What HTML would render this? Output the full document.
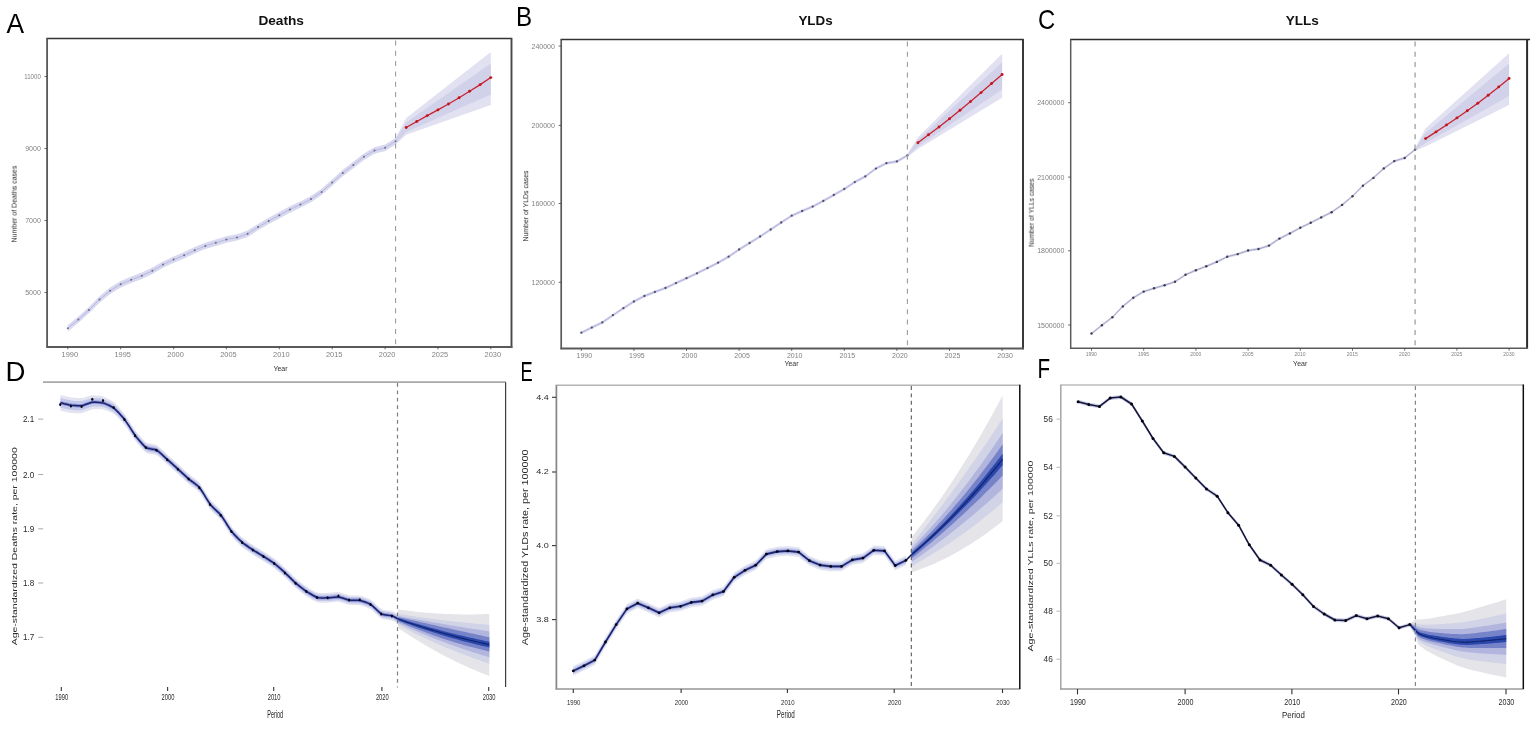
<!DOCTYPE html>
<html lang="en">
<head>
<meta charset="utf-8">
<title>Figure: Deaths, YLDs, YLLs projections</title>
<style>html,body{margin:0;padding:0;background:#fff;}body{width:1535px;height:735px;overflow:hidden;}svg{display:block;}</style>
</head>
<body>
<svg width="1535" height="735" viewBox="0 0 1535 735" font-family='"Liberation Sans", sans-serif'>
<defs><filter id="soft" x="-5%" y="-5%" width="110%" height="110%"><feGaussianBlur stdDeviation="0.45"/></filter><filter id="soft2" x="-5%" y="-5%" width="110%" height="110%"><feGaussianBlur stdDeviation="0.3"/></filter></defs>
<rect width="1535" height="735" fill="#ffffff"/>
<g id="panelA">
<g filter="url(#soft)">
<polygon points="67.8,325 78.4,316.4 88.9,306.9 99.5,296.3 110.1,287.5 120.7,281 131.2,276.6 141.8,272.5 152.4,267.6 163,261.4 173.6,256.4 184.1,252.1 194.7,247.1 205.3,242.7 215.8,239.6 226.4,236.3 237,234.2 247.6,230.6 258.1,223.9 268.7,217.7 279.3,212.1 289.9,206.3 300.4,201.4 311,195.9 321.6,188.7 332.2,179.4 342.8,169.8 353.3,161.8 363.9,153.5 374.5,147.3 385.1,144.5 395.6,138 395.6,144.4 385.1,150.9 374.5,153.7 363.9,159.9 353.3,168.2 342.8,176.2 332.2,185.8 321.6,195.1 311,202.3 300.4,207.8 289.9,212.7 279.3,218.5 268.7,224.1 258.1,230.3 247.6,237 237,240.6 226.4,242.7 215.8,246 205.3,249.1 194.7,253.5 184.1,258.5 173.6,262.8 163,267.8 152.4,274 141.8,278.9 131.2,283 120.7,287.4 110.1,293.9 99.5,302.7 88.9,313.3 78.4,322.8 67.8,331.4" fill="#d8d8f0"/>
<polygon points="395.6,138 406.2,118 490.8,52 490.8,105 406.2,134.7 395.6,144.4" fill="#e1e1f2"/>
<polygon points="395.6,139.3 406.2,122.5 490.8,63.6 490.8,94.6 406.2,132 395.6,143.1" fill="#d1d1ea"/>
<path d="M67.8 328.2 L78.4 319.6 L88.9 310.1 L99.5 299.5 L110.1 290.7 L120.7 284.2 L131.2 279.8 L141.8 275.7 L152.4 270.8 L163 264.6 L173.6 259.6 L184.1 255.3 L194.7 250.3 L205.3 245.9 L215.8 242.8 L226.4 239.5 L237 237.4 L247.6 233.8 L258.1 227.1 L268.7 220.9 L279.3 215.3 L289.9 209.5 L300.4 204.6 L311 199.1 L321.6 191.9 L332.2 182.6 L342.8 173 L353.3 165 L363.9 156.7 L374.5 150.5 L385.1 147.7 L395.6 141.2" fill="none" stroke="#b4b4dc" stroke-width="0.9"/>
<circle cx="67.8" cy="328.2" r="1.0" fill="#6b6b8c"/>
<circle cx="78.4" cy="319.6" r="1.0" fill="#6b6b8c"/>
<circle cx="88.9" cy="310.1" r="1.0" fill="#6b6b8c"/>
<circle cx="99.5" cy="299.5" r="1.0" fill="#6b6b8c"/>
<circle cx="110.1" cy="290.7" r="1.0" fill="#6b6b8c"/>
<circle cx="120.7" cy="284.2" r="1.0" fill="#6b6b8c"/>
<circle cx="131.2" cy="279.8" r="1.0" fill="#6b6b8c"/>
<circle cx="141.8" cy="275.7" r="1.0" fill="#6b6b8c"/>
<circle cx="152.4" cy="270.8" r="1.0" fill="#6b6b8c"/>
<circle cx="163" cy="264.6" r="1.0" fill="#6b6b8c"/>
<circle cx="173.6" cy="259.6" r="1.0" fill="#6b6b8c"/>
<circle cx="184.1" cy="255.3" r="1.0" fill="#6b6b8c"/>
<circle cx="194.7" cy="250.3" r="1.0" fill="#6b6b8c"/>
<circle cx="205.3" cy="245.9" r="1.0" fill="#6b6b8c"/>
<circle cx="215.8" cy="242.8" r="1.0" fill="#6b6b8c"/>
<circle cx="226.4" cy="239.5" r="1.0" fill="#6b6b8c"/>
<circle cx="237" cy="237.4" r="1.0" fill="#6b6b8c"/>
<circle cx="247.6" cy="233.8" r="1.0" fill="#6b6b8c"/>
<circle cx="258.1" cy="227.1" r="1.0" fill="#6b6b8c"/>
<circle cx="268.7" cy="220.9" r="1.0" fill="#6b6b8c"/>
<circle cx="279.3" cy="215.3" r="1.0" fill="#6b6b8c"/>
<circle cx="289.9" cy="209.5" r="1.0" fill="#6b6b8c"/>
<circle cx="300.4" cy="204.6" r="1.0" fill="#6b6b8c"/>
<circle cx="311" cy="199.1" r="1.0" fill="#6b6b8c"/>
<circle cx="321.6" cy="191.9" r="1.0" fill="#6b6b8c"/>
<circle cx="332.2" cy="182.6" r="1.0" fill="#6b6b8c"/>
<circle cx="342.8" cy="173" r="1.0" fill="#6b6b8c"/>
<circle cx="353.3" cy="165" r="1.0" fill="#6b6b8c"/>
<circle cx="363.9" cy="156.7" r="1.0" fill="#6b6b8c"/>
<circle cx="374.5" cy="150.5" r="1.0" fill="#6b6b8c"/>
<circle cx="385.1" cy="147.7" r="1.0" fill="#6b6b8c"/>
<circle cx="395.6" cy="141.2" r="1.0" fill="#6b6b8c"/>
<path d="M406.2 127.5 L416.8 121.5 L427.3 115.6 L437.9 109.9 L448.5 104 L459.1 97.8 L469.6 91.3 L480.2 84.6 L490.8 77.6" fill="none" stroke="#c9202c" stroke-width="1.25"/>
<circle cx="406.2" cy="127.5" r="1.45" fill="#c4141f"/>
<circle cx="416.8" cy="121.5" r="1.45" fill="#c4141f"/>
<circle cx="427.3" cy="115.6" r="1.45" fill="#c4141f"/>
<circle cx="437.9" cy="109.9" r="1.45" fill="#c4141f"/>
<circle cx="448.5" cy="104" r="1.45" fill="#c4141f"/>
<circle cx="459.1" cy="97.8" r="1.45" fill="#c4141f"/>
<circle cx="469.6" cy="91.3" r="1.45" fill="#c4141f"/>
<circle cx="480.2" cy="84.6" r="1.45" fill="#c4141f"/>
<circle cx="490.8" cy="77.6" r="1.45" fill="#c4141f"/>
</g>
<g filter="url(#soft2)">
<line x1="395.6" y1="40.5" x2="395.6" y2="346.9" stroke="#999999" stroke-width="1.05" stroke-dasharray="5 5.3"/>
<line x1="46.3" y1="38.5" x2="512.3" y2="38.5" stroke="#363636" stroke-width="1.50"/>
<line x1="511.5" y1="38.5" x2="511.5" y2="347.8" stroke="#464646" stroke-width="1.90"/>
<line x1="47.1" y1="38.5" x2="47.1" y2="347.8" stroke="#5a5a5a" stroke-width="1.85"/>
<line x1="46.3" y1="346.9" x2="512.4" y2="346.9" stroke="#5a5a5a" stroke-width="2.00"/>
</g>
<g stroke="#444" stroke-width="0.8">
<line x1="67.8" y1="346.9" x2="67.8" y2="349.3"/>
<line x1="120.7" y1="346.9" x2="120.7" y2="349.3"/>
<line x1="173.6" y1="346.9" x2="173.6" y2="349.3"/>
<line x1="226.4" y1="346.9" x2="226.4" y2="349.3"/>
<line x1="279.3" y1="346.9" x2="279.3" y2="349.3"/>
<line x1="332.2" y1="346.9" x2="332.2" y2="349.3"/>
<line x1="385.1" y1="346.9" x2="385.1" y2="349.3"/>
<line x1="437.9" y1="346.9" x2="437.9" y2="349.3"/>
<line x1="490.8" y1="346.9" x2="490.8" y2="349.3"/>
<line x1="44.5" y1="76.5" x2="47.1" y2="76.5"/>
<line x1="44.5" y1="148.5" x2="47.1" y2="148.5"/>
<line x1="44.5" y1="220.5" x2="47.1" y2="220.5"/>
<line x1="44.5" y1="292.5" x2="47.1" y2="292.5"/>
</g>
<g font-size="7.4" fill="#808080" filter="url(#soft)">
<text x="69.8" y="356.8" text-anchor="middle">1990</text>
<text x="122.7" y="356.8" text-anchor="middle">1995</text>
<text x="175.6" y="356.8" text-anchor="middle">2000</text>
<text x="228.4" y="356.8" text-anchor="middle">2005</text>
<text x="281.3" y="356.8" text-anchor="middle">2010</text>
<text x="334.2" y="356.8" text-anchor="middle">2015</text>
<text x="387.1" y="356.8" text-anchor="middle">2020</text>
<text x="439.9" y="356.8" text-anchor="middle">2025</text>
<text x="492.8" y="356.8" text-anchor="middle">2030</text>
<text x="40.8" y="79" text-anchor="end" font-size="7" textLength="16.5" lengthAdjust="spacingAndGlyphs">11000</text>
<text x="40.8" y="151" text-anchor="end" font-size="7">9000</text>
<text x="40.8" y="223" text-anchor="end" font-size="7">7000</text>
<text x="40.8" y="295" text-anchor="end" font-size="7">5000</text>
</g>
<text x="280.5" y="370.9" font-size="7" fill="#333" text-anchor="middle" filter="url(#soft2)">Year</text>
<text transform="translate(16.6 204) rotate(-90)" font-size="6.6" fill="#2a2a2a" text-anchor="middle" textLength="77" lengthAdjust="spacingAndGlyphs" filter="url(#soft2)">Number of Deaths cases</text>
<text x="281.2" y="25.3" font-size="13" font-weight="bold" fill="#111" text-anchor="middle" textLength="45.6" lengthAdjust="spacingAndGlyphs">Deaths</text>
</g>
<g id="panelB">
<g filter="url(#soft)">
<polygon points="581.3,331.2 591.8,326.1 602.3,320.9 612.9,313.7 623.4,306.7 633.9,300 644.4,294.5 654.9,290.4 665.5,286.5 676,281.6 686.5,276.7 697,271.8 707.5,266.6 718.1,261.2 728.6,255.2 739.1,248 749.6,241.5 760.1,235 770.7,228 781.2,221 791.7,214.2 802.2,209.5 812.7,205.1 823.3,199.4 833.8,193.5 844.3,187.5 854.8,180.6 865.3,174.9 875.9,167.1 886.4,161.7 896.9,159.9 907.4,153.9 907.4,156.9 896.9,162.9 886.4,164.7 875.9,170.1 865.3,177.9 854.8,183.6 844.3,190.5 833.8,196.5 823.3,202.4 812.7,208.1 802.2,212.5 791.7,217.2 781.2,224 770.7,231 760.1,238 749.6,244.5 739.1,251 728.6,258.2 718.1,264.2 707.5,269.6 697,274.8 686.5,279.7 676,284.6 665.5,289.5 654.9,293.4 644.4,297.5 633.9,303 623.4,309.7 612.9,316.7 602.3,323.9 591.8,329.1 581.3,334.2" fill="#d8d8f0"/>
<polygon points="907.4,153.9 917.9,137.3 1002.1,53.8 1002.1,97.8 917.9,149 907.4,156.9" fill="#e1e1f2"/>
<polygon points="907.4,154.5 917.9,140 1002.1,62.3 1002.1,89.5 917.9,146.5 907.4,156.3" fill="#d1d1ea"/>
<path d="M581.3 332.7 L591.8 327.6 L602.3 322.4 L612.9 315.2 L623.4 308.2 L633.9 301.5 L644.4 296 L654.9 291.9 L665.5 288 L676 283.1 L686.5 278.2 L697 273.3 L707.5 268.1 L718.1 262.7 L728.6 256.7 L739.1 249.5 L749.6 243 L760.1 236.5 L770.7 229.5 L781.2 222.5 L791.7 215.7 L802.2 211 L812.7 206.6 L823.3 200.9 L833.8 195 L844.3 189 L854.8 182.1 L865.3 176.4 L875.9 168.6 L886.4 163.2 L896.9 161.4 L907.4 155.4" fill="none" stroke="#b0b0dc" stroke-width="1.0"/>
<circle cx="581.3" cy="332.7" r="1.15" fill="#50506a"/>
<circle cx="591.8" cy="327.6" r="1.15" fill="#50506a"/>
<circle cx="602.3" cy="322.4" r="1.15" fill="#50506a"/>
<circle cx="612.9" cy="315.2" r="1.15" fill="#50506a"/>
<circle cx="623.4" cy="308.2" r="1.15" fill="#50506a"/>
<circle cx="633.9" cy="301.5" r="1.15" fill="#50506a"/>
<circle cx="644.4" cy="296" r="1.15" fill="#50506a"/>
<circle cx="654.9" cy="291.9" r="1.15" fill="#50506a"/>
<circle cx="665.5" cy="288" r="1.15" fill="#50506a"/>
<circle cx="676" cy="283.1" r="1.15" fill="#50506a"/>
<circle cx="686.5" cy="278.2" r="1.15" fill="#50506a"/>
<circle cx="697" cy="273.3" r="1.15" fill="#50506a"/>
<circle cx="707.5" cy="268.1" r="1.15" fill="#50506a"/>
<circle cx="718.1" cy="262.7" r="1.15" fill="#50506a"/>
<circle cx="728.6" cy="256.7" r="1.15" fill="#50506a"/>
<circle cx="739.1" cy="249.5" r="1.15" fill="#50506a"/>
<circle cx="749.6" cy="243" r="1.15" fill="#50506a"/>
<circle cx="760.1" cy="236.5" r="1.15" fill="#50506a"/>
<circle cx="770.7" cy="229.5" r="1.15" fill="#50506a"/>
<circle cx="781.2" cy="222.5" r="1.15" fill="#50506a"/>
<circle cx="791.7" cy="215.7" r="1.15" fill="#50506a"/>
<circle cx="802.2" cy="211" r="1.15" fill="#50506a"/>
<circle cx="812.7" cy="206.6" r="1.15" fill="#50506a"/>
<circle cx="823.3" cy="200.9" r="1.15" fill="#50506a"/>
<circle cx="833.8" cy="195" r="1.15" fill="#50506a"/>
<circle cx="844.3" cy="189" r="1.15" fill="#50506a"/>
<circle cx="854.8" cy="182.1" r="1.15" fill="#50506a"/>
<circle cx="865.3" cy="176.4" r="1.15" fill="#50506a"/>
<circle cx="875.9" cy="168.6" r="1.15" fill="#50506a"/>
<circle cx="886.4" cy="163.2" r="1.15" fill="#50506a"/>
<circle cx="896.9" cy="161.4" r="1.15" fill="#50506a"/>
<circle cx="907.4" cy="155.4" r="1.15" fill="#50506a"/>
<path d="M917.9 142.7 L928.5 134.7 L939 127 L949.5 118.7 L960 110.2 L970.5 101.6 L981.1 92.6 L991.6 83.5 L1002.1 74.5" fill="none" stroke="#c9202c" stroke-width="1.25"/>
<circle cx="917.9" cy="142.7" r="1.45" fill="#c4141f"/>
<circle cx="928.5" cy="134.7" r="1.45" fill="#c4141f"/>
<circle cx="939" cy="127" r="1.45" fill="#c4141f"/>
<circle cx="949.5" cy="118.7" r="1.45" fill="#c4141f"/>
<circle cx="960" cy="110.2" r="1.45" fill="#c4141f"/>
<circle cx="970.5" cy="101.6" r="1.45" fill="#c4141f"/>
<circle cx="981.1" cy="92.6" r="1.45" fill="#c4141f"/>
<circle cx="991.6" cy="83.5" r="1.45" fill="#c4141f"/>
<circle cx="1002.1" cy="74.5" r="1.45" fill="#c4141f"/>
</g>
<g filter="url(#soft2)">
<line x1="907.4" y1="41.5" x2="907.4" y2="348.5" stroke="#9c9c9c" stroke-width="1.1" stroke-dasharray="5 5.3"/>
<line x1="560.5" y1="39.5" x2="1023.8" y2="39.5" stroke="#303030" stroke-width="1.55"/>
<line x1="1023" y1="39.5" x2="1023" y2="349.3" stroke="#303030" stroke-width="1.90"/>
<line x1="561.2" y1="39.5" x2="561.2" y2="349.3" stroke="#5a5a5a" stroke-width="1.70"/>
<line x1="560.5" y1="348.5" x2="1023.9" y2="348.5" stroke="#5a5a5a" stroke-width="1.84"/>
</g>
<g stroke="#444" stroke-width="0.8">
<line x1="581.3" y1="348.5" x2="581.3" y2="350.9"/>
<line x1="633.9" y1="348.5" x2="633.9" y2="350.9"/>
<line x1="686.5" y1="348.5" x2="686.5" y2="350.9"/>
<line x1="739.1" y1="348.5" x2="739.1" y2="350.9"/>
<line x1="791.7" y1="348.5" x2="791.7" y2="350.9"/>
<line x1="844.3" y1="348.5" x2="844.3" y2="350.9"/>
<line x1="896.9" y1="348.5" x2="896.9" y2="350.9"/>
<line x1="949.5" y1="348.5" x2="949.5" y2="350.9"/>
<line x1="1002.1" y1="348.5" x2="1002.1" y2="350.9"/>
<line x1="558.6" y1="46" x2="561.2" y2="46"/>
<line x1="558.6" y1="125.4" x2="561.2" y2="125.4"/>
<line x1="558.6" y1="203.5" x2="561.2" y2="203.5"/>
<line x1="558.6" y1="282.3" x2="561.2" y2="282.3"/>
</g>
<g font-size="7.0" fill="#808080" filter="url(#soft)">
<text x="584.3" y="358" text-anchor="middle">1990</text>
<text x="636.9" y="358" text-anchor="middle">1995</text>
<text x="689.5" y="358" text-anchor="middle">2000</text>
<text x="742.1" y="358" text-anchor="middle">2005</text>
<text x="794.7" y="358" text-anchor="middle">2010</text>
<text x="847.3" y="358" text-anchor="middle">2015</text>
<text x="899.9" y="358" text-anchor="middle">2020</text>
<text x="952.5" y="358" text-anchor="middle">2025</text>
<text x="1005.1" y="358" text-anchor="middle">2030</text>
<text x="554.9" y="48.5" text-anchor="end" font-size="7">240000</text>
<text x="554.9" y="127.9" text-anchor="end" font-size="7">200000</text>
<text x="554.9" y="206" text-anchor="end" font-size="7">160000</text>
<text x="554.9" y="284.8" text-anchor="end" font-size="7">120000</text>
</g>
<text x="791.5" y="366" font-size="7" fill="#333" text-anchor="middle" filter="url(#soft2)">Year</text>
<text transform="translate(528.2 206) rotate(-90)" font-size="6.6" fill="#2a2a2a" text-anchor="middle" textLength="71" lengthAdjust="spacingAndGlyphs" filter="url(#soft2)">Number of YLDs cases</text>
<text x="815.5" y="25.3" font-size="13" font-weight="bold" fill="#111" text-anchor="middle" textLength="34.2" lengthAdjust="spacingAndGlyphs">YLDs</text>
</g>
<g id="panelC">
<g filter="url(#soft)">
<polygon points="1091.5,332.2 1101.9,323.9 1112.4,315.9 1122.8,305.1 1133.3,296.5 1143.7,290.3 1154.1,287 1164.6,283.9 1175,280.5 1185.5,273.5 1195.9,268.9 1206.3,265 1216.8,260.6 1227.2,255.4 1237.7,252.8 1248.1,249.2 1258.5,247.7 1269,244.3 1279.4,237.3 1289.9,232.1 1300.3,226.5 1310.7,221.5 1321.2,216.1 1331.6,210.9 1342.1,203.6 1352.5,194.9 1362.9,184.4 1373.4,176.6 1383.8,167.1 1394.3,159.8 1404.7,156.7 1415.1,148.2 1415.1,150.8 1404.7,159.3 1394.3,162.4 1383.8,169.7 1373.4,179.2 1362.9,187 1352.5,197.5 1342.1,206.2 1331.6,213.5 1321.2,218.7 1310.7,224.1 1300.3,229.1 1289.9,234.7 1279.4,239.9 1269,246.9 1258.5,250.3 1248.1,251.8 1237.7,255.4 1227.2,258 1216.8,263.2 1206.3,267.6 1195.9,271.5 1185.5,276.1 1175,283.1 1164.6,286.5 1154.1,289.6 1143.7,292.9 1133.3,299.1 1122.8,307.7 1112.4,318.5 1101.9,326.5 1091.5,334.8" fill="#d8d8f0"/>
<polygon points="1415.1,148.2 1425.6,128.3 1509.1,53.3 1509.1,105 1425.6,146.4 1415.1,150.8" fill="#e1e1f2"/>
<polygon points="1415.1,148.7 1425.6,133 1509.1,63.6 1509.1,96 1425.6,143 1415.1,150.3" fill="#d1d1ea"/>
<path d="M1091.5 333.5 L1101.9 325.2 L1112.4 317.2 L1122.8 306.4 L1133.3 297.8 L1143.7 291.6 L1154.1 288.3 L1164.6 285.2 L1175 281.8 L1185.5 274.8 L1195.9 270.2 L1206.3 266.3 L1216.8 261.9 L1227.2 256.7 L1237.7 254.1 L1248.1 250.5 L1258.5 249 L1269 245.6 L1279.4 238.6 L1289.9 233.4 L1300.3 227.8 L1310.7 222.8 L1321.2 217.4 L1331.6 212.2 L1342.1 204.9 L1352.5 196.2 L1362.9 185.7 L1373.4 177.9 L1383.8 168.4 L1394.3 161.1 L1404.7 158 L1415.1 149.5" fill="none" stroke="#a4a4c0" stroke-width="1.0"/>
<circle cx="1091.5" cy="333.5" r="1.2" fill="#3c3c50"/>
<circle cx="1101.9" cy="325.2" r="1.2" fill="#3c3c50"/>
<circle cx="1112.4" cy="317.2" r="1.2" fill="#3c3c50"/>
<circle cx="1122.8" cy="306.4" r="1.2" fill="#3c3c50"/>
<circle cx="1133.3" cy="297.8" r="1.2" fill="#3c3c50"/>
<circle cx="1143.7" cy="291.6" r="1.2" fill="#3c3c50"/>
<circle cx="1154.1" cy="288.3" r="1.2" fill="#3c3c50"/>
<circle cx="1164.6" cy="285.2" r="1.2" fill="#3c3c50"/>
<circle cx="1175" cy="281.8" r="1.2" fill="#3c3c50"/>
<circle cx="1185.5" cy="274.8" r="1.2" fill="#3c3c50"/>
<circle cx="1195.9" cy="270.2" r="1.2" fill="#3c3c50"/>
<circle cx="1206.3" cy="266.3" r="1.2" fill="#3c3c50"/>
<circle cx="1216.8" cy="261.9" r="1.2" fill="#3c3c50"/>
<circle cx="1227.2" cy="256.7" r="1.2" fill="#3c3c50"/>
<circle cx="1237.7" cy="254.1" r="1.2" fill="#3c3c50"/>
<circle cx="1248.1" cy="250.5" r="1.2" fill="#3c3c50"/>
<circle cx="1258.5" cy="249" r="1.2" fill="#3c3c50"/>
<circle cx="1269" cy="245.6" r="1.2" fill="#3c3c50"/>
<circle cx="1279.4" cy="238.6" r="1.2" fill="#3c3c50"/>
<circle cx="1289.9" cy="233.4" r="1.2" fill="#3c3c50"/>
<circle cx="1300.3" cy="227.8" r="1.2" fill="#3c3c50"/>
<circle cx="1310.7" cy="222.8" r="1.2" fill="#3c3c50"/>
<circle cx="1321.2" cy="217.4" r="1.2" fill="#3c3c50"/>
<circle cx="1331.6" cy="212.2" r="1.2" fill="#3c3c50"/>
<circle cx="1342.1" cy="204.9" r="1.2" fill="#3c3c50"/>
<circle cx="1352.5" cy="196.2" r="1.2" fill="#3c3c50"/>
<circle cx="1362.9" cy="185.7" r="1.2" fill="#3c3c50"/>
<circle cx="1373.4" cy="177.9" r="1.2" fill="#3c3c50"/>
<circle cx="1383.8" cy="168.4" r="1.2" fill="#3c3c50"/>
<circle cx="1394.3" cy="161.1" r="1.2" fill="#3c3c50"/>
<circle cx="1404.7" cy="158" r="1.2" fill="#3c3c50"/>
<circle cx="1415.1" cy="149.5" r="1.2" fill="#3c3c50"/>
<path d="M1425.6 138.6 L1436 131.9 L1446.5 124.9 L1456.9 117.9 L1467.3 110.7 L1477.8 103.2 L1488.2 95.2 L1498.7 86.9 L1509.1 78.4" fill="none" stroke="#c9202c" stroke-width="1.25"/>
<circle cx="1425.6" cy="138.6" r="1.45" fill="#c4141f"/>
<circle cx="1436" cy="131.9" r="1.45" fill="#c4141f"/>
<circle cx="1446.5" cy="124.9" r="1.45" fill="#c4141f"/>
<circle cx="1456.9" cy="117.9" r="1.45" fill="#c4141f"/>
<circle cx="1467.3" cy="110.7" r="1.45" fill="#c4141f"/>
<circle cx="1477.8" cy="103.2" r="1.45" fill="#c4141f"/>
<circle cx="1488.2" cy="95.2" r="1.45" fill="#c4141f"/>
<circle cx="1498.7" cy="86.9" r="1.45" fill="#c4141f"/>
<circle cx="1509.1" cy="78.4" r="1.45" fill="#c4141f"/>
</g>
<g filter="url(#soft2)">
<line x1="1415.1" y1="41.5" x2="1415.1" y2="348.3" stroke="#b2b2b2" stroke-width="1.6" stroke-dasharray="5 5.3"/>
<line x1="1070.1" y1="39.5" x2="1530.1" y2="39.5" stroke="#2a2a2a" stroke-width="1.40"/>
<line x1="1527.1" y1="39.5" x2="1527.1" y2="349" stroke="#2a2a2a" stroke-width="2.00"/>
<line x1="1070.7" y1="39.5" x2="1070.7" y2="349" stroke="#5a5a5a" stroke-width="1.48"/>
<line x1="1070.1" y1="348.3" x2="1528" y2="348.3" stroke="#5a5a5a" stroke-width="1.60"/>
</g>
<g stroke="#444" stroke-width="0.8">
<line x1="1091.5" y1="348.3" x2="1091.5" y2="350.7"/>
<line x1="1143.7" y1="348.3" x2="1143.7" y2="350.7"/>
<line x1="1195.9" y1="348.3" x2="1195.9" y2="350.7"/>
<line x1="1248.1" y1="348.3" x2="1248.1" y2="350.7"/>
<line x1="1300.3" y1="348.3" x2="1300.3" y2="350.7"/>
<line x1="1352.5" y1="348.3" x2="1352.5" y2="350.7"/>
<line x1="1404.7" y1="348.3" x2="1404.7" y2="350.7"/>
<line x1="1456.9" y1="348.3" x2="1456.9" y2="350.7"/>
<line x1="1509.1" y1="348.3" x2="1509.1" y2="350.7"/>
<line x1="1068.1" y1="102.7" x2="1070.7" y2="102.7"/>
<line x1="1068.1" y1="177.1" x2="1070.7" y2="177.1"/>
<line x1="1068.1" y1="250.8" x2="1070.7" y2="250.8"/>
<line x1="1068.1" y1="325" x2="1070.7" y2="325"/>
</g>
<g font-size="5.0" fill="#808080" filter="url(#soft)">
<text x="1091.3" y="355.6" text-anchor="middle">1990</text>
<text x="1143.5" y="355.6" text-anchor="middle">1995</text>
<text x="1195.7" y="355.6" text-anchor="middle">2000</text>
<text x="1247.9" y="355.6" text-anchor="middle">2005</text>
<text x="1300.1" y="355.6" text-anchor="middle">2010</text>
<text x="1352.3" y="355.6" text-anchor="middle">2015</text>
<text x="1404.5" y="355.6" text-anchor="middle">2020</text>
<text x="1456.7" y="355.6" text-anchor="middle">2025</text>
<text x="1508.9" y="355.6" text-anchor="middle">2030</text>
<text x="1064.4" y="105.2" text-anchor="end" font-size="7">2400000</text>
<text x="1064.4" y="179.6" text-anchor="end" font-size="7">2100000</text>
<text x="1064.4" y="253.3" text-anchor="end" font-size="7">1800000</text>
<text x="1064.4" y="327.5" text-anchor="end" font-size="7">1500000</text>
</g>
<text x="1300.2" y="365.9" font-size="7" fill="#333" text-anchor="middle" filter="url(#soft2)">Year</text>
<text transform="translate(1033.8 212.6) rotate(-90)" font-size="6.6" fill="#2a2a2a" text-anchor="middle" textLength="68.5" lengthAdjust="spacingAndGlyphs" filter="url(#soft2)">Number of YLLs cases</text>
<text x="1302.3" y="25.3" font-size="13" font-weight="bold" fill="#111" text-anchor="middle" textLength="33.2" lengthAdjust="spacingAndGlyphs">YLLs</text>
</g>
<g id="panelD">
<g filter="url(#soft)">
<polygon points="60.5,394.8 61.8,395.2 64.1,395.7 66.8,396.4 69.4,397 71.2,397.4 72.9,397.6 75.3,397.8 77.8,398 80.2,398.1 81.9,398 83.6,397.7 86,397 88.5,396.2 90.9,395.5 92.6,395.2 94.3,395.2 96.7,395.4 99.2,395.7 101.6,396.1 103.3,396.6 105,397.3 107.4,398.4 109.9,399.7 112.3,401.1 114,402.3 115.7,404 118.1,406.4 120.6,409.3 123,412 124.7,414.2 126.4,416.7 128.8,420.3 131.3,424.3 133.7,427.9 135.4,430.4 137.1,432.6 139.5,435.4 142,438.4 144.4,440.9 146.1,442.4 147.8,443.1 150.2,443.6 152.7,444 155.1,444.5 156.8,445.1 158.5,446.4 160.9,448.5 163.4,450.8 165.8,453.1 167.5,454.7 169.2,456.2 171.6,458.3 174.1,460.6 176.5,462.7 178.2,464.3 179.9,465.9 182.3,468.1 184.8,470.4 187.2,472.6 188.9,474.1 190.6,475.5 193,477.2 195.5,479.1 197.9,481 199.6,482.7 201.3,485.2 203.7,488.9 206.2,493.2 208.6,497 210.3,499.5 212,501.5 214.4,503.8 216.9,506.2 219.3,508.4 221,510.3 222.7,512.8 225.1,516.5 227.6,520.5 230,524.2 231.7,526.7 233.4,528.7 235.8,531.1 238.3,533.7 240.7,536 242.4,537.6 244.1,538.9 246.5,540.6 249,542.4 251.4,543.9 253.1,545.1 254.8,546.2 257.2,547.6 259.7,549.2 262.1,550.6 263.8,551.7 265.5,552.8 267.9,554.3 270.4,555.9 272.8,557.5 274.5,558.7 276.2,560.1 278.6,562.1 281.1,564.3 283.5,566.4 285.2,568 286.9,569.7 289.3,572 291.8,574.5 294.2,576.8 295.9,578.4 297.6,579.8 300,581.7 302.5,583.7 304.9,585.4 306.6,586.6 308.3,587.7 310.7,589.2 313.2,590.7 315.6,591.9 317.3,592.6 319,592.9 321.4,593 323.9,593 326.3,593 328,592.9 329.7,592.8 332.1,592.6 334.6,592.3 337,592.1 338.7,592.2 340.4,592.5 342.8,593.2 345.3,594.1 347.7,594.8 349.4,595.3 351.1,595.4 353.5,595.4 356,595.4 358.4,595.5 360.1,595.7 361.8,596.1 364.2,596.9 366.7,597.8 369.1,598.8 370.8,599.7 372.5,601.1 374.9,603.2 377.4,605.7 379.8,607.8 381.5,609.1 383.3,609.7 385.7,610.1 388.3,610.5 390.7,610.8 392.2,611.1 393.4,611.6 394.9,612.4 396.3,613.2 397.5,613.9 398.2,614.3 398.2,623.9 397.5,623.5 396.3,622.8 394.9,622 393.4,621.2 392.2,620.7 390.7,620.4 388.3,620.1 385.7,619.8 383.3,619.3 381.5,618.7 379.8,617.4 377.4,615.3 374.9,612.9 372.5,610.7 370.8,609.3 369.1,608.4 366.7,607.5 364.2,606.5 361.8,605.8 360.1,605.3 358.4,605.2 356,605.1 353.5,605.1 351.1,605.1 349.4,604.9 347.7,604.5 345.3,603.8 342.8,602.9 340.4,602.2 338.7,601.8 337,601.8 334.6,602 332.1,602.3 329.7,602.5 328,602.7 326.3,602.7 323.9,602.8 321.4,602.8 319,602.6 317.3,602.4 315.6,601.6 313.2,600.4 310.7,598.9 308.3,597.5 306.6,596.4 304.9,595.2 302.5,593.4 300,591.5 297.6,589.6 295.9,588.2 294.2,586.6 291.8,584.3 289.3,581.8 286.9,579.5 285.2,577.8 283.5,576.2 281.1,574.1 278.6,571.9 276.2,569.9 274.5,568.5 272.8,567.3 270.4,565.7 267.9,564.1 265.5,562.6 263.8,561.5 262.1,560.4 259.7,559 257.2,557.5 254.8,556 253.1,554.9 251.4,553.8 249,552.2 246.5,550.5 244.1,548.8 242.4,547.4 240.7,545.9 238.3,543.6 235.8,541 233.4,538.5 231.7,536.5 230,534.1 227.6,530.4 225.1,526.4 222.7,522.7 221,520.3 219.3,518.4 216.9,516.1 214.4,513.7 212,511.4 210.3,509.5 208.6,506.9 206.2,503.1 203.7,498.9 201.3,495.1 199.6,492.7 197.9,491 195.5,489.1 193,487.2 190.6,485.4 188.9,484.1 187.2,482.5 184.8,480.4 182.3,478 179.9,475.9 178.2,474.3 176.5,472.7 174.1,470.6 171.6,468.3 169.2,466.2 167.5,464.7 165.8,463.1 163.4,460.9 160.9,458.6 158.5,456.5 156.8,455.3 155.1,454.7 152.7,454.3 150.2,454 147.8,453.5 146.1,452.8 144.4,451.3 142,448.8 139.5,445.9 137.1,443.2 135.4,441 133.7,438.5 131.3,435 128.8,431 126.4,427.4 124.7,425 123,423 120.6,420.5 118.1,417.8 115.7,415.6 114,414.1 112.3,413.1 109.9,411.9 107.4,410.8 105,409.9 103.3,409.4 101.6,409.2 99.2,409 96.7,409 94.3,409 92.6,409.2 90.9,409.7 88.5,410.7 86,411.7 83.6,412.6 81.9,413.2 80.2,413.3 77.8,413.3 75.3,413.3 72.9,413.1 71.2,413 69.4,412.7 66.8,412.2 64.1,411.6 61.8,411.1 60.5,410.8" fill="#e3e4f0"/>
<polygon points="60.5,398 61.8,398.3 64.1,398.9 66.8,399.6 69.4,400.1 71.2,400.5 72.9,400.7 75.3,400.9 77.8,401 80.2,401.1 81.9,401 83.6,400.6 86,399.9 88.5,399 90.9,398.3 92.6,397.9 94.3,397.9 96.7,398 99.2,398.3 101.6,398.6 103.3,399 105,399.7 107.4,400.7 109.9,402 112.3,403.3 114,404.4 115.7,406.1 118.1,408.5 120.6,411.3 123,414 124.7,416.1 126.4,418.6 128.8,422.2 131.3,426.1 133.7,429.8 135.4,432.2 137.1,434.4 139.5,437.3 142,440.2 144.4,442.7 146.1,444.2 147.8,444.9 150.2,445.4 152.7,445.8 155.1,446.2 156.8,446.8 158.5,448.1 160.9,450.2 163.4,452.6 165.8,454.8 167.5,456.4 169.2,457.9 171.6,460 174.1,462.3 176.5,464.4 178.2,466 179.9,467.6 182.3,469.8 184.8,472.1 187.2,474.3 188.9,475.8 190.6,477.2 193,478.9 195.5,480.8 197.9,482.7 199.6,484.4 201.3,486.9 203.7,490.6 206.2,494.8 208.6,498.7 210.3,501.2 212,503.1 214.4,505.4 216.9,507.8 219.3,510.1 221,512 222.7,514.5 225.1,518.2 227.6,522.2 230,525.8 231.7,528.3 233.4,530.3 235.8,532.8 238.3,535.4 240.7,537.7 242.4,539.2 244.1,540.6 246.5,542.3 249,544 251.4,545.6 253.1,546.7 254.8,547.8 257.2,549.3 259.7,550.8 262.1,552.3 263.8,553.3 265.5,554.4 267.9,555.9 270.4,557.6 272.8,559.1 274.5,560.3 276.2,561.8 278.6,563.8 281.1,566 283.5,568.1 285.2,569.7 286.9,571.3 289.3,573.6 291.8,576.2 294.2,578.4 295.9,580.1 297.6,581.5 300,583.3 302.5,585.3 304.9,587 306.6,588.3 308.3,589.4 310.7,590.8 313.2,592.3 315.6,593.5 317.3,594.3 319,594.5 321.4,594.7 323.9,594.7 326.3,594.6 328,594.6 329.7,594.4 332.1,594.2 334.6,593.9 337,593.8 338.7,593.8 340.4,594.2 342.8,594.9 345.3,595.7 347.7,596.4 349.4,596.9 351.1,597 353.5,597 356,597.1 358.4,597.1 360.1,597.3 361.8,597.7 364.2,598.5 366.7,599.4 369.1,600.4 370.8,601.3 372.5,602.7 374.9,604.9 377.4,607.3 379.8,609.4 381.5,610.7 383.3,611.3 385.7,611.7 388.3,612.1 390.7,612.4 392.2,612.7 393.4,613.2 394.9,614 396.3,614.8 397.5,615.5 398.2,615.9 398.2,622.3 397.5,621.9 396.3,621.2 394.9,620.4 393.4,619.6 392.2,619.1 390.7,618.8 388.3,618.5 385.7,618.1 383.3,617.7 381.5,617.1 379.8,615.8 377.4,613.7 374.9,611.3 372.5,609.1 370.8,607.7 369.1,606.8 366.7,605.9 364.2,604.9 361.8,604.2 360.1,603.7 358.4,603.5 356,603.5 353.5,603.5 351.1,603.5 349.4,603.3 347.7,602.9 345.3,602.1 342.8,601.3 340.4,600.6 338.7,600.2 337,600.2 334.6,600.4 332.1,600.7 329.7,600.9 328,601 326.3,601.1 323.9,601.1 321.4,601.1 319,601 317.3,600.7 315.6,600 313.2,598.8 310.7,597.3 308.3,595.8 306.6,594.7 304.9,593.5 302.5,591.8 300,589.8 297.6,588 295.9,586.5 294.2,584.9 291.8,582.6 289.3,580.1 286.9,577.8 285.2,576.1 283.5,574.6 281.1,572.5 278.6,570.3 276.2,568.3 274.5,566.9 272.8,565.6 270.4,564.1 267.9,562.4 265.5,560.9 263.8,559.9 262.1,558.8 259.7,557.4 257.2,555.8 254.8,554.4 253.1,553.3 251.4,552.1 249,550.5 246.5,548.8 244.1,547.1 242.4,545.8 240.7,544.2 238.3,541.9 235.8,539.4 233.4,536.9 231.7,534.9 230,532.4 227.6,528.7 225.1,524.7 222.7,521 221,518.6 219.3,516.7 216.9,514.4 214.4,512 212,509.7 210.3,507.8 208.6,505.2 206.2,501.4 203.7,497.2 201.3,493.4 199.6,491 197.9,489.3 195.5,487.4 193,485.5 190.6,483.7 188.9,482.4 187.2,480.9 184.8,478.7 182.3,476.4 179.9,474.2 178.2,472.6 176.5,471 174.1,468.9 171.6,466.6 169.2,464.5 167.5,463 165.8,461.4 163.4,459.2 160.9,456.8 158.5,454.8 156.8,453.6 155.1,453 152.7,452.5 150.2,452.2 147.8,451.7 146.1,451 144.4,449.5 142,447 139.5,444.1 137.1,441.3 135.4,439.1 133.7,436.7 131.3,433.1 128.8,429.1 126.4,425.6 124.7,423.1 123,421.1 120.6,418.5 118.1,415.8 115.7,413.5 114,411.9 112.3,410.9 109.9,409.7 107.4,408.5 105,407.6 103.3,407 101.6,406.7 99.2,406.5 96.7,406.4 94.3,406.4 92.6,406.5 90.9,407 88.5,407.8 86,408.8 83.6,409.7 81.9,410.2 80.2,410.3 77.8,410.3 75.3,410.2 72.9,410.1 71.2,409.9 69.4,409.6 66.8,409 64.1,408.4 61.8,407.9 60.5,407.6" fill="#c3c8ec"/>
<polygon points="60.5,401.1 61.8,401.4 64.1,402 66.8,402.6 69.4,403.2 71.2,403.5 72.9,403.7 75.3,403.8 77.8,404 80.2,404 81.9,403.9 83.6,403.5 86,402.6 88.5,401.7 90.9,400.9 92.6,400.5 94.3,400.4 96.7,400.5 99.2,400.7 101.6,401 103.3,401.3 105,401.9 107.4,402.9 109.9,404.1 112.3,405.4 114,406.5 115.7,408.1 118.1,410.4 120.6,413.2 123,415.8 124.7,417.9 126.4,420.4 128.8,423.9 131.3,427.9 133.7,431.5 135.4,434 137.1,436.2 139.5,439 142,441.9 144.4,444.4 146.1,445.9 147.8,446.6 150.2,447.1 152.7,447.5 155.1,447.9 156.8,448.5 158.5,449.8 160.9,451.8 163.4,454.2 165.8,456.4 167.5,458 169.2,459.5 171.6,461.6 174.1,463.9 176.5,466 178.2,467.6 179.9,469.2 182.3,471.4 184.8,473.7 187.2,475.9 188.9,477.4 190.6,478.8 193,480.5 195.5,482.4 197.9,484.3 199.6,486 201.3,488.5 203.7,492.2 206.2,496.4 208.6,500.2 210.3,502.8 212,504.7 214.4,507 216.9,509.4 219.3,511.7 221,513.6 222.7,516.1 225.1,519.7 227.6,523.8 230,527.4 231.7,529.9 233.4,531.9 235.8,534.4 238.3,537 240.7,539.2 242.4,540.8 244.1,542.2 246.5,543.8 249,545.6 251.4,547.2 253.1,548.3 254.8,549.4 257.2,550.8 259.7,552.4 262.1,553.8 263.8,554.9 265.5,556 267.9,557.5 270.4,559.1 272.8,560.7 274.5,561.9 276.2,563.3 278.6,565.3 281.1,567.5 283.5,569.6 285.2,571.2 286.9,572.9 289.3,575.2 291.8,577.7 294.2,580 295.9,581.6 297.6,583 300,584.9 302.5,586.8 304.9,588.6 306.6,589.8 308.3,590.9 310.7,592.3 313.2,593.8 315.6,595.1 317.3,595.8 319,596.1 321.4,596.2 323.9,596.2 326.3,596.1 328,596.1 329.7,596 332.1,595.7 334.6,595.5 337,595.3 338.7,595.3 340.4,595.7 342.8,596.4 345.3,597.2 347.7,598 349.4,598.4 351.1,598.5 353.5,598.6 356,598.6 358.4,598.6 360.1,598.8 361.8,599.3 364.2,600 366.7,600.9 369.1,601.9 370.8,602.8 372.5,604.2 374.9,606.4 377.4,608.8 379.8,610.9 381.5,612.2 383.3,612.8 385.7,613.2 388.3,613.6 390.7,613.9 392.2,614.2 393.4,614.7 394.9,615.5 396.3,616.3 397.5,617 398.2,617.4 398.2,620.8 397.5,620.4 396.3,619.7 394.9,618.9 393.4,618.1 392.2,617.6 390.7,617.3 388.3,617 385.7,616.6 383.3,616.2 381.5,615.6 379.8,614.3 377.4,612.2 374.9,609.8 372.5,607.6 370.8,606.2 369.1,605.3 366.7,604.3 364.2,603.4 361.8,602.7 360.1,602.2 358.4,602 356,602 353.5,602 351.1,601.9 349.4,601.8 347.7,601.4 345.3,600.6 342.8,599.8 340.4,599.1 338.7,598.7 337,598.7 334.6,598.9 332.1,599.1 329.7,599.4 328,599.5 326.3,599.5 323.9,599.6 321.4,599.6 319,599.5 317.3,599.2 315.6,598.5 313.2,597.2 310.7,595.7 308.3,594.3 306.6,593.2 304.9,592 302.5,590.2 300,588.3 297.6,586.4 295.9,585 294.2,583.4 291.8,581.1 289.3,578.6 286.9,576.3 285.2,574.6 283.5,573 281.1,570.9 278.6,568.7 276.2,566.7 274.5,565.3 272.8,564.1 270.4,562.5 267.9,560.9 265.5,559.4 263.8,558.3 262.1,557.2 259.7,555.8 257.2,554.2 254.8,552.8 253.1,551.7 251.4,550.6 249,549 246.5,547.2 244.1,545.6 242.4,544.2 240.7,542.6 238.3,540.4 235.8,537.8 233.4,535.3 231.7,533.3 230,530.8 227.6,527.2 225.1,523.1 222.7,519.5 221,517 219.3,515.1 216.9,512.8 214.4,510.4 212,508.1 210.3,506.2 208.6,503.6 206.2,499.8 203.7,495.6 201.3,491.9 199.6,489.4 197.9,487.7 195.5,485.8 193,483.9 190.6,482.2 188.9,480.8 187.2,479.3 184.8,477.1 182.3,474.8 179.9,472.6 178.2,471 176.5,469.4 174.1,467.3 171.6,465 169.2,462.9 167.5,461.4 165.8,459.8 163.4,457.6 160.9,455.2 158.5,453.2 156.8,451.9 155.1,451.3 152.7,450.9 150.2,450.5 147.8,450 146.1,449.3 144.4,447.8 142,445.3 139.5,442.4 137.1,439.6 135.4,437.4 133.7,434.9 131.3,431.3 128.8,427.3 126.4,423.8 124.7,421.3 123,419.2 120.6,416.6 118.1,413.8 115.7,411.5 114,409.9 112.3,408.8 109.9,407.5 107.4,406.3 105,405.3 103.3,404.7 101.6,404.4 99.2,404.1 96.7,403.9 94.3,403.8 92.6,403.9 90.9,404.3 88.5,405.1 86,406 83.6,406.9 81.9,407.3 80.2,407.4 77.8,407.4 75.3,407.2 72.9,407.1 71.2,406.9 69.4,406.6 66.8,406 64.1,405.4 61.8,404.8 60.5,404.5" fill="#8792d6"/>
<polygon points="398.2,609.6 402.2,610.1 406.1,610.6 410.1,611.1 414,611.6 418,612 422,612.3 425.9,612.7 429.9,613 433.8,613.3 437.8,613.5 441.8,613.8 445.7,614 449.7,614.1 453.7,614.2 457.6,614.3 461.6,614.4 465.5,614.4 469.5,614.4 473.5,614.4 477.4,614.3 481.4,614.2 485.3,614.1 489.3,613.9 489.3,676 485.3,674.5 481.4,672.9 477.4,671.3 473.5,669.6 469.5,667.9 465.5,666.1 461.6,664.3 457.6,662.4 453.7,660.5 449.7,658.5 445.7,656.5 441.8,654.4 437.8,652.3 433.8,650.1 429.9,647.8 425.9,645.5 422,643.2 418,640.8 414,638.3 410.1,635.8 406.1,633.3 402.2,630.7 398.2,628" fill="#e5e5e9"/>
<polygon points="398.2,613.9 402.2,614.5 406.1,615.1 410.1,615.7 414,616.3 418,616.9 422,617.5 425.9,618 429.9,618.5 433.8,619.1 437.8,619.6 441.8,620.1 445.7,620.5 449.7,621 453.7,621.5 457.6,621.9 461.6,622.3 465.5,622.7 469.5,623.1 473.5,623.5 477.4,623.9 481.4,624.2 485.3,624.6 489.3,624.9 489.3,663.7 485.3,662.4 481.4,661 477.4,659.6 473.5,658.2 469.5,656.8 465.5,655.3 461.6,653.8 457.6,652.2 453.7,650.6 449.7,649 445.7,647.4 441.8,645.7 437.8,644 433.8,642.2 429.9,640.4 425.9,638.6 422,636.8 418,634.9 414,633 410.1,631 406.1,629.1 402.2,627 398.2,625" fill="#d1d3e6"/>
<polygon points="398.2,615.9 402.2,616.7 406.1,617.4 410.1,618.2 414,618.9 418,619.6 422,620.3 425.9,621 429.9,621.8 433.8,622.4 437.8,623.1 441.8,623.8 445.7,624.5 449.7,625.2 453.7,625.8 457.6,626.5 461.6,627.1 465.5,627.7 469.5,628.4 473.5,629 477.4,629.6 481.4,630.2 485.3,630.8 489.3,631.4 489.3,657.2 485.3,656 481.4,654.9 477.4,653.6 473.5,652.4 469.5,651.1 465.5,649.8 461.6,648.5 457.6,647.1 453.7,645.7 449.7,644.3 445.7,642.8 441.8,641.3 437.8,639.8 433.8,638.3 429.9,636.7 425.9,635.1 422,633.5 418,631.8 414,630.1 410.1,628.4 406.1,626.6 402.2,624.8 398.2,623" fill="#b2b6de"/>
<polygon points="398.2,617 402.2,617.9 406.1,618.8 410.1,619.7 414,620.6 418,621.5 422,622.4 425.9,623.3 429.9,624.2 433.8,625.1 437.8,626 441.8,626.9 445.7,627.8 449.7,628.6 453.7,629.5 457.6,630.4 461.6,631.2 465.5,632.1 469.5,633 473.5,633.8 477.4,634.7 481.4,635.5 485.3,636.4 489.3,637.2 489.3,651.4 485.3,650.5 481.4,649.6 477.4,648.6 473.5,647.6 469.5,646.5 465.5,645.4 461.6,644.3 457.6,643.2 453.7,642 449.7,640.7 445.7,639.5 441.8,638.2 437.8,636.8 433.8,635.4 429.9,634 425.9,632.6 422,631.1 418,629.6 414,628 410.1,626.4 406.1,624.8 402.2,623.1 398.2,621.4" fill="#7783c9"/>
<polygon points="398.2,618 402.2,619.3 406.1,620.5 410.1,621.7 414,622.9 418,624.1 422,625.2 425.9,626.3 429.9,627.4 433.8,628.5 437.8,629.6 441.8,630.7 445.7,631.7 449.7,632.7 453.7,633.7 457.6,634.7 461.6,635.6 465.5,636.5 469.5,637.5 473.5,638.3 477.4,639.2 481.4,640.1 485.3,640.9 489.3,641.7 489.3,647.5 485.3,646.6 481.4,645.7 477.4,644.7 473.5,643.8 469.5,642.8 465.5,641.8 461.6,640.7 457.6,639.6 453.7,638.5 449.7,637.4 445.7,636.2 441.8,635.1 437.8,633.8 433.8,632.6 429.9,631.3 425.9,630.1 422,628.7 418,627.4 414,626 410.1,624.6 406.1,623.2 402.2,621.8 398.2,620.3" fill="#2a47ac"/>
<path d="M398.2 619.1 L403 620.7 L407.8 622.4 L412.6 623.9 L417.4 625.5 L422.2 627 L427 628.5 L431.8 629.9 L436.6 631.3 L441.4 632.7 L446.1 634 L450.9 635.3 L455.7 636.6 L460.5 637.9 L465.3 639.1 L470.1 640.2 L474.9 641.4 L479.7 642.5 L484.5 643.6 L489.3 644.6" fill="none" stroke="#12246e" stroke-width="1.1"/>
<path d="M60.5 402.8 L61.8 403.1 L64.1 403.7 L66.8 404.3 L69.4 404.9 L71.2 405.2 L72.9 405.4 L75.3 405.5 L77.8 405.7 L80.2 405.7 L81.9 405.6 L83.6 405.2 L86 404.3 L88.5 403.4 L90.9 402.6 L92.6 402.2 L94.3 402.1 L96.7 402.2 L99.2 402.4 L101.6 402.7 L103.3 403 L105 403.6 L107.4 404.6 L109.9 405.8 L112.3 407.1 L114 408.2 L115.7 409.8 L118.1 412.1 L120.6 414.9 L123 417.5 L124.7 419.6 L126.4 422.1 L128.8 425.6 L131.3 429.6 L133.7 433.2 L135.4 435.7 L137.1 437.9 L139.5 440.7 L142 443.6 L144.4 446.1 L146.1 447.6 L147.8 448.3 L150.2 448.8 L152.7 449.2 L155.1 449.6 L156.8 450.2 L158.5 451.5 L160.9 453.5 L163.4 455.9 L165.8 458.1 L167.5 459.7 L169.2 461.2 L171.6 463.3 L174.1 465.6 L176.5 467.7 L178.2 469.3 L179.9 470.9 L182.3 473.1 L184.8 475.4 L187.2 477.6 L188.9 479.1 L190.6 480.5 L193 482.2 L195.5 484.1 L197.9 486 L199.6 487.7 L201.3 490.2 L203.7 493.9 L206.2 498.1 L208.6 501.9 L210.3 504.5 L212 506.4 L214.4 508.7 L216.9 511.1 L219.3 513.4 L221 515.3 L222.7 517.8 L225.1 521.4 L227.6 525.5 L230 529.1 L231.7 531.6 L233.4 533.6 L235.8 536.1 L238.3 538.7 L240.7 540.9 L242.4 542.5 L244.1 543.9 L246.5 545.5 L249 547.3 L251.4 548.9 L253.1 550 L254.8 551.1 L257.2 552.5 L259.7 554.1 L262.1 555.5 L263.8 556.6 L265.5 557.7 L267.9 559.2 L270.4 560.8 L272.8 562.4 L274.5 563.6 L276.2 565 L278.6 567 L281.1 569.2 L283.5 571.3 L285.2 572.9 L286.9 574.6 L289.3 576.9 L291.8 579.4 L294.2 581.7 L295.9 583.3 L297.6 584.7 L300 586.6 L302.5 588.5 L304.9 590.3 L306.6 591.5 L308.3 592.6 L310.7 594 L313.2 595.5 L315.6 596.8 L317.3 597.5 L319 597.8 L321.4 597.9 L323.9 597.9 L326.3 597.8 L328 597.8 L329.7 597.7 L332.1 597.4 L334.6 597.2 L337 597 L338.7 597 L340.4 597.4 L342.8 598.1 L345.3 598.9 L347.7 599.7 L349.4 600.1 L351.1 600.2 L353.5 600.3 L356 600.3 L358.4 600.3 L360.1 600.5 L361.8 601 L364.2 601.7 L366.7 602.6 L369.1 603.6 L370.8 604.5 L372.5 605.9 L374.9 608.1 L377.4 610.5 L379.8 612.6 L381.5 613.9 L383.3 614.5 L385.7 614.9 L388.3 615.3 L390.7 615.6 L392.2 615.9 L393.4 616.4 L394.9 617.2 L396.3 618 L397.5 618.7 L398.2 619.1" fill="none" stroke="#1a226c" stroke-width="1.55" stroke-linejoin="round"/>
<ellipse cx="60.2" cy="404.4" rx="1.1" ry="1.5" fill="#05050f"/>
<ellipse cx="70.9" cy="406" rx="1.1" ry="1.5" fill="#05050f"/>
<ellipse cx="81.6" cy="406.4" rx="1.1" ry="1.5" fill="#05050f"/>
<ellipse cx="92.3" cy="399.2" rx="1.1" ry="1.5" fill="#05050f"/>
<ellipse cx="103" cy="400.6" rx="1.1" ry="1.5" fill="#05050f"/>
<ellipse cx="113.7" cy="407.6" rx="1.1" ry="1.5" fill="#05050f"/>
<ellipse cx="124.4" cy="419.6" rx="1.1" ry="1.5" fill="#05050f"/>
<ellipse cx="135.1" cy="435.7" rx="1.1" ry="1.5" fill="#05050f"/>
<ellipse cx="145.8" cy="447.6" rx="1.1" ry="1.5" fill="#05050f"/>
<ellipse cx="156.5" cy="450.2" rx="1.1" ry="1.5" fill="#05050f"/>
<ellipse cx="167.2" cy="459.7" rx="1.1" ry="1.5" fill="#05050f"/>
<ellipse cx="177.9" cy="469.3" rx="1.1" ry="1.5" fill="#05050f"/>
<ellipse cx="188.6" cy="479.1" rx="1.1" ry="1.5" fill="#05050f"/>
<ellipse cx="199.3" cy="487.7" rx="1.1" ry="1.5" fill="#05050f"/>
<ellipse cx="210" cy="504.5" rx="1.1" ry="1.5" fill="#05050f"/>
<ellipse cx="220.7" cy="515.3" rx="1.1" ry="1.5" fill="#05050f"/>
<ellipse cx="231.4" cy="531.6" rx="1.1" ry="1.5" fill="#05050f"/>
<ellipse cx="242.1" cy="542.5" rx="1.1" ry="1.5" fill="#05050f"/>
<ellipse cx="252.8" cy="550" rx="1.1" ry="1.5" fill="#05050f"/>
<ellipse cx="263.5" cy="556.6" rx="1.1" ry="1.5" fill="#05050f"/>
<ellipse cx="274.2" cy="563.6" rx="1.1" ry="1.5" fill="#05050f"/>
<ellipse cx="284.9" cy="572.9" rx="1.1" ry="1.5" fill="#05050f"/>
<ellipse cx="295.6" cy="583.3" rx="1.1" ry="1.5" fill="#05050f"/>
<ellipse cx="306.3" cy="591.5" rx="1.1" ry="1.5" fill="#05050f"/>
<ellipse cx="317" cy="597.5" rx="1.1" ry="1.5" fill="#05050f"/>
<ellipse cx="327.7" cy="597.8" rx="1.1" ry="1.5" fill="#05050f"/>
<ellipse cx="338.4" cy="596" rx="1.1" ry="1.5" fill="#05050f"/>
<ellipse cx="349.1" cy="600.1" rx="1.1" ry="1.5" fill="#05050f"/>
<ellipse cx="359.8" cy="599.8" rx="1.1" ry="1.5" fill="#05050f"/>
<ellipse cx="370.5" cy="604.5" rx="1.1" ry="1.5" fill="#05050f"/>
<ellipse cx="381.2" cy="613.9" rx="1.1" ry="1.5" fill="#05050f"/>
<ellipse cx="391.9" cy="615.9" rx="1.1" ry="1.5" fill="#05050f"/>
</g>
<g filter="url(#soft2)">
<line x1="43" y1="382.1" x2="506" y2="382.1" stroke="#a8a8a8" stroke-width="1.6"/>
<line x1="505.6" y1="382.2" x2="505.6" y2="687" stroke="#3c3c3c" stroke-width="1.2"/>
<line x1="397.5" y1="383" x2="397.5" y2="687.5" stroke="#7c7c7c" stroke-width="1.2" stroke-dasharray="3.8 3.6"/>
</g>
</g>
<g id="panelE">
<g filter="url(#soft)">
<polygon points="573.3,666.1 584,661 594.8,655.3 605.5,637.2 616.2,619.8 626.9,604.1 637.7,598.4 648.4,603 659.1,608 669.9,603 680.6,601.5 691.3,597.6 702.1,596.3 712.8,590.1 723.5,586.7 734.2,572.5 745,565.5 755.7,560.4 766.4,549.3 777.2,546.8 787.9,546.1 798.6,547.3 809.4,555.9 820.1,560.3 830.8,561.6 841.5,561.6 852.3,555.1 863,553.3 873.7,545.5 884.5,546.1 895.2,560.7 905.9,555.6 905.9,565.2 895.2,570.3 884.5,555.7 873.7,555.1 863,562.9 852.3,564.7 841.5,571.2 830.8,571.2 820.1,569.9 809.4,565.5 798.6,556.9 787.9,555.7 777.2,556.4 766.4,558.9 755.7,570 745,575.1 734.2,582.1 723.5,596.3 712.8,599.7 702.1,605.9 691.3,607.2 680.6,611.1 669.9,612.6 659.1,617.6 648.4,612.6 637.7,608 626.9,613.7 616.2,629.4 605.5,646.8 594.8,664.9 584,670.6 573.3,675.7" fill="#e3e5f2"/>
<polygon points="573.3,667.9 584,662.8 594.8,657.1 605.5,639 616.2,621.6 626.9,605.9 637.7,600.2 648.4,604.8 659.1,609.8 669.9,604.8 680.6,603.3 691.3,599.4 702.1,598.1 712.8,591.9 723.5,588.5 734.2,574.3 745,567.3 755.7,562.2 766.4,551.1 777.2,548.6 787.9,547.9 798.6,549.1 809.4,557.7 820.1,562.1 830.8,563.4 841.5,563.4 852.3,556.9 863,555.1 873.7,547.3 884.5,547.9 895.2,562.5 905.9,557.4 905.9,563.4 895.2,568.5 884.5,553.9 873.7,553.3 863,561.1 852.3,562.9 841.5,569.4 830.8,569.4 820.1,568.1 809.4,563.7 798.6,555.1 787.9,553.9 777.2,554.6 766.4,557.1 755.7,568.2 745,573.3 734.2,580.3 723.5,594.5 712.8,597.9 702.1,604.1 691.3,605.4 680.6,609.3 669.9,610.8 659.1,615.8 648.4,610.8 637.7,606.2 626.9,611.9 616.2,627.6 605.5,645 594.8,663.1 584,668.8 573.3,673.9" fill="#c3c8ea"/>
<polygon points="573.3,669.4 584,664.3 594.8,658.6 605.5,640.5 616.2,623.1 626.9,607.4 637.7,601.7 648.4,606.3 659.1,611.3 669.9,606.3 680.6,604.8 691.3,600.9 702.1,599.6 712.8,593.4 723.5,590 734.2,575.8 745,568.8 755.7,563.7 766.4,552.6 777.2,550.1 787.9,549.4 798.6,550.6 809.4,559.2 820.1,563.6 830.8,564.9 841.5,564.9 852.3,558.4 863,556.6 873.7,548.8 884.5,549.4 895.2,564 905.9,558.9 905.9,561.9 895.2,567 884.5,552.4 873.7,551.8 863,559.6 852.3,561.4 841.5,567.9 830.8,567.9 820.1,566.6 809.4,562.2 798.6,553.6 787.9,552.4 777.2,553.1 766.4,555.6 755.7,566.7 745,571.8 734.2,578.8 723.5,593 712.8,596.4 702.1,602.6 691.3,603.9 680.6,607.8 669.9,609.3 659.1,614.3 648.4,609.3 637.7,604.7 626.9,610.4 616.2,626.1 605.5,643.5 594.8,661.6 584,667.3 573.3,672.4" fill="#8e99d8"/>
<polygon points="911.6,536.9 915.6,532 919.5,527.1 923.5,522 927.4,516.7 931.4,511.4 935.3,506 939.3,500.4 943.3,494.7 947.2,488.9 951.2,483 955.1,477 959.1,470.8 963,464.6 967,458.2 970.9,451.7 974.9,445.1 978.9,438.4 982.8,431.5 986.8,424.6 990.7,417.5 994.7,410.3 998.6,403 1002.6,395.6 1002.6,521.2 998.6,524.3 994.7,527.3 990.7,530.3 986.8,533.2 982.8,536 978.9,538.7 974.9,541.3 970.9,543.9 967,546.3 963,548.7 959.1,551 955.1,553.2 951.2,555.4 947.2,557.5 943.3,559.4 939.3,561.3 935.3,563.2 931.4,564.9 927.4,566.6 923.5,568.1 919.5,569.6 915.6,571.1 911.6,572.4" fill="#e5e5e9"/>
<polygon points="911.6,544.5 915.6,539.6 919.5,534.6 923.5,529.6 927.4,524.5 931.4,519.3 935.3,514.2 939.3,508.9 943.3,503.7 947.2,498.3 951.2,493 955.1,487.5 959.1,482.1 963,476.5 967,471 970.9,465.3 974.9,459.7 978.9,454 982.8,448.2 986.8,442.4 990.7,436.5 994.7,430.6 998.6,424.6 1002.6,418.6 1002.6,502.4 998.6,505.8 994.7,509.1 990.7,512.4 986.8,515.6 982.8,518.8 978.9,521.9 974.9,525 970.9,528 967,530.9 963,533.8 959.1,536.6 955.1,539.4 951.2,542.1 947.2,544.7 943.3,547.3 939.3,549.8 935.3,552.3 931.4,554.8 927.4,557.1 923.5,559.4 919.5,561.7 915.6,563.9 911.6,566" fill="#d1d3e6"/>
<polygon points="911.6,548 915.6,544 919.5,539.8 923.5,535.6 927.4,531.3 931.4,526.9 935.3,522.4 939.3,517.9 943.3,513.2 947.2,508.5 951.2,503.7 955.1,498.7 959.1,493.7 963,488.6 967,483.5 970.9,478.2 974.9,472.8 978.9,467.4 982.8,461.9 986.8,456.2 990.7,450.5 994.7,444.8 998.6,438.9 1002.6,432.9 1002.6,489 998.6,492.6 994.7,496.2 990.7,499.7 986.8,503.2 982.8,506.6 978.9,510.1 974.9,513.4 970.9,516.8 967,520 963,523.3 959.1,526.5 955.1,529.7 951.2,532.8 947.2,535.9 943.3,539 939.3,542 935.3,545 931.4,547.9 927.4,550.8 923.5,553.7 919.5,556.5 915.6,559.3 911.6,562" fill="#b2b6de"/>
<polygon points="911.6,551 915.6,547.3 919.5,543.5 923.5,539.6 927.4,535.7 931.4,531.7 935.3,527.5 939.3,523.3 943.3,519 947.2,514.6 951.2,510.2 955.1,505.6 959.1,501 963,496.3 967,491.4 970.9,486.5 974.9,481.6 978.9,476.5 982.8,471.3 986.8,466.1 990.7,460.8 994.7,455.4 998.6,449.9 1002.6,444.3 1002.6,475.6 998.6,479.7 994.7,483.7 990.7,487.7 986.8,491.6 982.8,495.5 978.9,499.4 974.9,503.2 970.9,507 967,510.7 963,514.4 959.1,518 955.1,521.7 951.2,525.2 947.2,528.7 943.3,532.2 939.3,535.7 935.3,539.1 931.4,542.4 927.4,545.7 923.5,549 919.5,552.3 915.6,555.4 911.6,558.6" fill="#7783c9"/>
<polygon points="911.6,553 915.6,549.6 919.5,546.1 923.5,542.5 927.4,538.8 931.4,535 935.3,531.2 939.3,527.3 943.3,523.3 947.2,519.2 951.2,515.1 955.1,510.8 959.1,506.5 963,502.1 967,497.7 970.9,493.1 974.9,488.5 978.9,483.8 982.8,479 986.8,474.1 990.7,469.1 994.7,464.1 998.6,459 1002.6,453.8 1002.6,465.2 998.6,469.8 994.7,474.4 990.7,478.8 986.8,483.3 982.8,487.6 978.9,492 974.9,496.2 970.9,500.4 967,504.5 963,508.6 959.1,512.6 955.1,516.6 951.2,520.5 947.2,524.3 943.3,528.1 939.3,531.8 935.3,535.5 931.4,539.1 927.4,542.6 923.5,546.1 919.5,549.5 915.6,552.9 911.6,556.2" fill="#2a47ac"/>
<path d="M911.6 554.6 L916.4 550.5 L921.2 546.4 L926 542.1 L930.8 537.7 L935.5 533.2 L940.3 528.6 L945.1 523.9 L949.9 519.1 L954.7 514.2 L959.5 509.2 L964.3 504.1 L969.1 498.9 L973.9 493.5 L978.7 488.1 L983.4 482.6 L988.2 476.9 L993 471.2 L997.8 465.4 L1002.6 459.4" fill="none" stroke="#12246e" stroke-width="1.2"/>
<path d="M573.3 670.9 L584 665.8 L594.8 660.1 L605.5 642 L616.2 624.6 L626.9 608.9 L637.7 603.2 L648.4 607.8 L659.1 612.8 L669.9 607.8 L680.6 606.3 L691.3 602.4 L702.1 601.1 L712.8 594.9 L723.5 591.5 L734.2 577.3 L745 570.3 L755.7 565.2 L766.4 554.1 L777.2 551.6 L787.9 550.9 L798.6 552.1 L809.4 560.7 L820.1 565.1 L830.8 566.4 L841.5 566.4 L852.3 559.9 L863 558.1 L873.7 550.3 L884.5 550.9 L895.2 565.5 L905.9 560.4 L911.6 554.6" fill="none" stroke="#1a226c" stroke-width="1.6" stroke-linejoin="round"/>
<circle cx="573.3" cy="670.9" r="1.4" fill="#05050f"/>
<circle cx="584" cy="665.8" r="1.4" fill="#05050f"/>
<circle cx="594.8" cy="660.1" r="1.4" fill="#05050f"/>
<circle cx="605.5" cy="642" r="1.4" fill="#05050f"/>
<circle cx="616.2" cy="624.6" r="1.4" fill="#05050f"/>
<circle cx="626.9" cy="608.9" r="1.4" fill="#05050f"/>
<circle cx="637.7" cy="603.2" r="1.4" fill="#05050f"/>
<circle cx="648.4" cy="607.8" r="1.4" fill="#05050f"/>
<circle cx="659.1" cy="612.8" r="1.4" fill="#05050f"/>
<circle cx="669.9" cy="607.8" r="1.4" fill="#05050f"/>
<circle cx="680.6" cy="606.3" r="1.4" fill="#05050f"/>
<circle cx="691.3" cy="602.4" r="1.4" fill="#05050f"/>
<circle cx="702.1" cy="601.1" r="1.4" fill="#05050f"/>
<circle cx="712.8" cy="594.9" r="1.4" fill="#05050f"/>
<circle cx="723.5" cy="591.5" r="1.4" fill="#05050f"/>
<circle cx="734.2" cy="577.3" r="1.4" fill="#05050f"/>
<circle cx="745" cy="570.3" r="1.4" fill="#05050f"/>
<circle cx="755.7" cy="565.2" r="1.4" fill="#05050f"/>
<circle cx="766.4" cy="554.1" r="1.4" fill="#05050f"/>
<circle cx="777.2" cy="551.6" r="1.4" fill="#05050f"/>
<circle cx="787.9" cy="550.9" r="1.4" fill="#05050f"/>
<circle cx="798.6" cy="552.1" r="1.4" fill="#05050f"/>
<circle cx="809.4" cy="560.7" r="1.4" fill="#05050f"/>
<circle cx="820.1" cy="565.1" r="1.4" fill="#05050f"/>
<circle cx="830.8" cy="566.4" r="1.4" fill="#05050f"/>
<circle cx="841.5" cy="566.4" r="1.4" fill="#05050f"/>
<circle cx="852.3" cy="559.9" r="1.4" fill="#05050f"/>
<circle cx="863" cy="558.1" r="1.4" fill="#05050f"/>
<circle cx="873.7" cy="550.3" r="1.4" fill="#05050f"/>
<circle cx="884.5" cy="550.9" r="1.4" fill="#05050f"/>
<circle cx="895.2" cy="565.5" r="1.4" fill="#05050f"/>
<circle cx="905.9" cy="560.4" r="1.4" fill="#05050f"/>
</g>
<g filter="url(#soft2)">
<line x1="555.6" y1="385.2" x2="1020.3" y2="385.2" stroke="#b4b4b4" stroke-width="1.5"/>
<line x1="556.4" y1="385.2" x2="556.4" y2="689.6" stroke="#858585" stroke-width="1.7"/>
<line x1="555.6" y1="689" x2="1020.3" y2="689" stroke="#949494" stroke-width="1.5"/>
<line x1="1019.8" y1="384.8" x2="1019.8" y2="689" stroke="#111" stroke-width="1.5"/>
<line x1="911.3" y1="386" x2="911.3" y2="688" stroke="#555" stroke-width="1.1" stroke-dasharray="3.9 3.5"/>
</g>
</g>
<g id="panelF">
<g filter="url(#soft)">
<polygon points="1078.1,399.8 1088.8,402.6 1099.5,404.5 1110.2,396.2 1120.9,395.1 1131.6,402.1 1142.3,419.1 1153,436.6 1163.7,450.9 1174.4,454.5 1185.1,465.1 1195.8,476.2 1206.5,487.1 1217.2,494.3 1227.9,510.8 1238.6,523.3 1249.3,542.9 1260,558.1 1270.7,563.3 1281.4,573.1 1292.1,582.4 1302.8,592.8 1313.5,604.6 1324.2,612.1 1334.9,618.1 1345.6,618.6 1356.3,613.7 1367,616.8 1377.7,614.2 1388.4,616.8 1399.1,625.9 1409.8,622.7 1409.8,626.5 1399.1,629.7 1388.4,620.6 1377.7,618 1367,620.6 1356.3,617.5 1345.6,622.4 1334.9,621.9 1324.2,615.9 1313.5,608.4 1302.8,596.6 1292.1,586.2 1281.4,576.9 1270.7,567.1 1260,561.9 1249.3,546.7 1238.6,527.1 1227.9,514.6 1217.2,498.1 1206.5,490.9 1195.8,480 1185.1,468.9 1174.4,458.3 1163.7,454.7 1153,440.4 1142.3,422.9 1131.6,405.9 1120.9,398.9 1110.2,400 1099.5,408.3 1088.8,406.4 1078.1,403.6" fill="#c9cce6"/>
<polygon points="1410.5,622.7 1413,621 1415.4,619.7 1417.9,619.3 1420.3,619.4 1422.8,619.3 1425.2,619.1 1427.7,618.8 1430.1,618.4 1432.6,617.9 1435,617.5 1437.5,617.1 1439.9,616.6 1442.4,616.2 1444.9,615.7 1447.3,615.3 1449.8,614.8 1452.2,614.4 1454.7,613.9 1457.1,613.4 1459.6,612.9 1462,612.4 1464.5,611.8 1466.9,611.1 1469.4,610.5 1471.8,609.7 1474.3,609 1476.8,608.3 1479.2,607.5 1481.7,606.8 1484.1,606.1 1486.6,605.3 1489,604.6 1491.5,603.9 1493.9,603.1 1496.4,602.4 1498.8,601.6 1501.3,600.8 1503.7,600.1 1506.2,599.3 1506.2,677.4 1503.7,676.9 1501.3,676.4 1498.8,675.9 1496.4,675.4 1493.9,674.9 1491.5,674.5 1489,673.9 1486.6,673.4 1484.1,672.9 1481.7,672.3 1479.2,671.8 1476.8,671.2 1474.3,670.7 1471.8,670.1 1469.4,669.5 1466.9,668.8 1464.5,668.1 1462,667.2 1459.6,666.3 1457.1,665.4 1454.7,664.3 1452.2,663.3 1449.8,662.2 1447.3,661.1 1444.9,659.9 1442.4,658.8 1439.9,657.6 1437.5,656.4 1435,655.2 1432.6,653.9 1430.1,652.6 1427.7,651.2 1425.2,649.7 1422.8,648.1 1420.3,646.3 1417.9,643.8 1415.4,636.6 1413,632 1410.5,627.7" fill="#e5e5e9"/>
<polygon points="1410.5,623.2 1413,623.2 1415.4,623.3 1417.9,623.9 1420.3,624.4 1422.8,624.6 1425.2,624.7 1427.7,624.7 1430.1,624.6 1432.6,624.5 1435,624.4 1437.5,624.2 1439.9,624.1 1442.4,623.9 1444.9,623.8 1447.3,623.6 1449.8,623.5 1452.2,623.3 1454.7,623.1 1457.1,622.9 1459.6,622.6 1462,622.4 1464.5,622 1466.9,621.7 1469.4,621.2 1471.8,620.7 1474.3,620.2 1476.8,619.7 1479.2,619.2 1481.7,618.7 1484.1,618.2 1486.6,617.7 1489,617.2 1491.5,616.7 1493.9,616.2 1496.4,615.7 1498.8,615.1 1501.3,614.6 1503.7,614 1506.2,613.5 1506.2,664 1503.7,663.7 1501.3,663.5 1498.8,663.2 1496.4,662.9 1493.9,662.7 1491.5,662.4 1489,662.1 1486.6,661.8 1484.1,661.5 1481.7,661.2 1479.2,660.9 1476.8,660.5 1474.3,660.2 1471.8,659.9 1469.4,659.5 1466.9,659.1 1464.5,658.6 1462,658 1459.6,657.4 1457.1,656.7 1454.7,655.9 1452.2,655.2 1449.8,654.3 1447.3,653.5 1444.9,652.7 1442.4,651.8 1439.9,650.9 1437.5,650 1435,649.1 1432.6,648.2 1430.1,647.2 1427.7,646.2 1425.2,645 1422.8,643.8 1420.3,642.3 1417.9,640.3 1415.4,635 1413,631.1 1410.5,627.2" fill="#d1d3e6"/>
<polygon points="1410.5,623.6 1413,624.4 1415.4,625.3 1417.9,626.6 1420.3,627.4 1422.8,627.8 1425.2,628.2 1427.7,628.4 1430.1,628.6 1432.6,628.7 1435,628.8 1437.5,628.8 1439.9,628.9 1442.4,628.9 1444.9,629 1447.3,629 1449.8,629.1 1452.2,629.1 1454.7,629.1 1457.1,629.1 1459.6,629 1462,628.9 1464.5,628.7 1466.9,628.5 1469.4,628.2 1471.8,627.9 1474.3,627.5 1476.8,627.2 1479.2,626.8 1481.7,626.5 1484.1,626.1 1486.6,625.8 1489,625.4 1491.5,625 1493.9,624.6 1496.4,624.2 1498.8,623.8 1501.3,623.4 1503.7,623 1506.2,622.6 1506.2,654.9 1503.7,654.8 1501.3,654.6 1498.8,654.5 1496.4,654.3 1493.9,654.2 1491.5,654 1489,653.9 1486.6,653.7 1484.1,653.5 1481.7,653.4 1479.2,653.2 1476.8,653 1474.3,652.8 1471.8,652.6 1469.4,652.4 1466.9,652.1 1464.5,651.8 1462,651.4 1459.6,650.9 1457.1,650.4 1454.7,649.9 1452.2,649.3 1449.8,648.7 1447.3,648.1 1444.9,647.5 1442.4,646.9 1439.9,646.3 1437.5,645.6 1435,645 1432.6,644.3 1430.1,643.6 1427.7,642.8 1425.2,642 1422.8,641 1420.3,639.8 1417.9,638.2 1415.4,633.9 1413,630.4 1410.5,626.8" fill="#b2b6de"/>
<polygon points="1410.5,623.9 1413,625.6 1415.4,627.2 1417.9,629 1420.3,630 1422.8,630.6 1425.2,631.1 1427.7,631.5 1430.1,631.9 1432.6,632.2 1435,632.4 1437.5,632.7 1439.9,632.9 1442.4,633.1 1444.9,633.4 1447.3,633.6 1449.8,633.7 1452.2,633.9 1454.7,634 1457.1,634.1 1459.6,634.2 1462,634.2 1464.5,634.1 1466.9,634 1469.4,633.8 1471.8,633.5 1474.3,633.2 1476.8,632.9 1479.2,632.6 1481.7,632.3 1484.1,632.1 1486.6,631.7 1489,631.4 1491.5,631.1 1493.9,630.7 1496.4,630.4 1498.8,630.1 1501.3,629.7 1503.7,629.3 1506.2,629 1506.2,647.9 1503.7,647.9 1501.3,648 1498.8,648 1496.4,648 1493.9,648.1 1491.5,648.1 1489,648.1 1486.6,648.1 1484.1,648.1 1481.7,648.1 1479.2,648 1476.8,648 1474.3,648 1471.8,648 1469.4,647.9 1466.9,647.8 1464.5,647.6 1462,647.4 1459.6,647 1457.1,646.7 1454.7,646.2 1452.2,645.8 1449.8,645.3 1447.3,644.9 1444.9,644.4 1442.4,643.8 1439.9,643.3 1437.5,642.8 1435,642.2 1432.6,641.7 1430.1,641 1427.7,640.4 1425.2,639.6 1422.8,638.8 1420.3,637.7 1417.9,636.3 1415.4,632.8 1413,629.8 1410.5,626.5" fill="#7783c9"/>
<polygon points="1410.5,624.2 1413,626.6 1415.4,628.8 1417.9,631.2 1420.3,632.4 1422.8,633.2 1425.2,633.8 1427.7,634.4 1430.1,634.9 1432.6,635.3 1435,635.7 1437.5,636.1 1439.9,636.5 1442.4,636.9 1444.9,637.2 1447.3,637.5 1449.8,637.9 1452.2,638.1 1454.7,638.4 1457.1,638.6 1459.6,638.8 1462,638.9 1464.5,638.9 1466.9,638.8 1469.4,638.7 1471.8,638.5 1474.3,638.3 1476.8,638.1 1479.2,637.9 1481.7,637.7 1484.1,637.5 1486.6,637.2 1489,636.9 1491.5,636.7 1493.9,636.4 1496.4,636.1 1498.8,635.9 1501.3,635.6 1503.7,635.3 1506.2,635 1506.2,642 1503.7,642.2 1501.3,642.5 1498.8,642.7 1496.4,642.9 1493.9,643.1 1491.5,643.4 1489,643.6 1486.6,643.8 1484.1,643.9 1481.7,644.1 1479.2,644.3 1476.8,644.4 1474.3,644.6 1471.8,644.7 1469.4,644.8 1466.9,644.9 1464.5,644.8 1462,644.7 1459.6,644.6 1457.1,644.3 1454.7,644 1452.2,643.6 1449.8,643.2 1447.3,642.8 1444.9,642.3 1442.4,641.8 1439.9,641.4 1437.5,640.8 1435,640.3 1432.6,639.8 1430.1,639.2 1427.7,638.5 1425.2,637.8 1422.8,637 1420.3,636.1 1417.9,634.7 1415.4,631.8 1413,629.1 1410.5,626.2" fill="#2a47ac"/>
<path d="M1410.5 625.2 L1413 627.9 L1415.4 630.4 L1417.9 633.1 L1420.3 634.4 L1422.8 635.3 L1425.2 636 L1427.7 636.7 L1430.1 637.2 L1432.6 637.8 L1435 638.3 L1437.5 638.7 L1439.9 639.2 L1442.4 639.6 L1444.9 640 L1447.3 640.4 L1449.8 640.8 L1452.2 641.2 L1454.7 641.5 L1457.1 641.8 L1459.6 642 L1462 642.1 L1464.5 642.2 L1466.9 642.1 L1469.4 642.1 L1471.8 641.9 L1474.3 641.7 L1476.8 641.5 L1479.2 641.3 L1481.7 641.1 L1484.1 640.9 L1486.6 640.7 L1489 640.4 L1491.5 640.2 L1493.9 639.9 L1496.4 639.7 L1498.8 639.4 L1501.3 639.1 L1503.7 638.9 L1506.2 638.6" fill="none" stroke="#12246e" stroke-width="1.1"/>
<path d="M1078.1 401.7 L1088.8 404.5 L1099.5 406.4 L1110.2 398.1 L1120.9 397 L1131.6 404 L1142.3 421 L1153 438.5 L1163.7 452.8 L1174.4 456.4 L1185.1 467 L1195.8 478.1 L1206.5 489 L1217.2 496.2 L1227.9 512.7 L1238.6 525.2 L1249.3 544.8 L1260 560 L1270.7 565.2 L1281.4 575 L1292.1 584.3 L1302.8 594.7 L1313.5 606.5 L1324.2 614 L1334.9 620 L1345.6 620.5 L1356.3 615.6 L1367 618.7 L1377.7 616.1 L1388.4 618.7 L1399.1 627.8 L1409.8 624.6" fill="none" stroke="#14143a" stroke-width="1.5" stroke-linejoin="round"/>
<circle cx="1078.1" cy="401.7" r="1.5" fill="#05050f"/>
<circle cx="1088.8" cy="404.5" r="1.5" fill="#05050f"/>
<circle cx="1099.5" cy="406.4" r="1.5" fill="#05050f"/>
<circle cx="1110.2" cy="398.1" r="1.5" fill="#05050f"/>
<circle cx="1120.9" cy="397" r="1.5" fill="#05050f"/>
<circle cx="1131.6" cy="404" r="1.5" fill="#05050f"/>
<circle cx="1142.3" cy="421" r="1.5" fill="#05050f"/>
<circle cx="1153" cy="438.5" r="1.5" fill="#05050f"/>
<circle cx="1163.7" cy="452.8" r="1.5" fill="#05050f"/>
<circle cx="1174.4" cy="456.4" r="1.5" fill="#05050f"/>
<circle cx="1185.1" cy="467" r="1.5" fill="#05050f"/>
<circle cx="1195.8" cy="478.1" r="1.5" fill="#05050f"/>
<circle cx="1206.5" cy="489" r="1.5" fill="#05050f"/>
<circle cx="1217.2" cy="496.2" r="1.5" fill="#05050f"/>
<circle cx="1227.9" cy="512.7" r="1.5" fill="#05050f"/>
<circle cx="1238.6" cy="525.2" r="1.5" fill="#05050f"/>
<circle cx="1249.3" cy="544.8" r="1.5" fill="#05050f"/>
<circle cx="1260" cy="560" r="1.5" fill="#05050f"/>
<circle cx="1270.7" cy="565.2" r="1.5" fill="#05050f"/>
<circle cx="1281.4" cy="575" r="1.5" fill="#05050f"/>
<circle cx="1292.1" cy="584.3" r="1.5" fill="#05050f"/>
<circle cx="1302.8" cy="594.7" r="1.5" fill="#05050f"/>
<circle cx="1313.5" cy="606.5" r="1.5" fill="#05050f"/>
<circle cx="1324.2" cy="614" r="1.5" fill="#05050f"/>
<circle cx="1334.9" cy="620" r="1.5" fill="#05050f"/>
<circle cx="1345.6" cy="620.5" r="1.5" fill="#05050f"/>
<circle cx="1356.3" cy="615.6" r="1.5" fill="#05050f"/>
<circle cx="1367" cy="618.7" r="1.5" fill="#05050f"/>
<circle cx="1377.7" cy="616.1" r="1.5" fill="#05050f"/>
<circle cx="1388.4" cy="618.7" r="1.5" fill="#05050f"/>
<circle cx="1399.1" cy="627.8" r="1.5" fill="#05050f"/>
<circle cx="1409.8" cy="624.6" r="1.5" fill="#05050f"/>
</g>
<g filter="url(#soft2)">
<line x1="1060.1" y1="385.05" x2="1523.8" y2="385.05" stroke="#bcbcbc" stroke-width="1.5"/>
<line x1="1060.8" y1="385" x2="1060.8" y2="689.6" stroke="#a4a4a4" stroke-width="1.5"/>
<line x1="1060.1" y1="689" x2="1523.8" y2="689" stroke="#9a9a9a" stroke-width="1.5"/>
<line x1="1523.3" y1="384.6" x2="1523.3" y2="689" stroke="#111" stroke-width="1.5"/>
<line x1="1415.4" y1="386" x2="1415.4" y2="688" stroke="#858585" stroke-width="1.2" stroke-dasharray="3.9 3.5"/>
</g>
</g>
<g id="textD">
<g stroke="#333" stroke-width="1.1" filter="url(#soft2)">
<line x1="61.3" y1="687" x2="61.3" y2="691"/>
<line x1="167.6" y1="687" x2="167.6" y2="691"/>
<line x1="273.7" y1="687" x2="273.7" y2="691"/>
<line x1="381.9" y1="687" x2="381.9" y2="691"/>
<line x1="488.7" y1="687" x2="488.7" y2="691"/>
<line x1="38.2" y1="419.1" x2="43.2" y2="419.1" stroke="#b0b0b0"/>
<line x1="38.2" y1="474.5" x2="43.2" y2="474.5" stroke="#b0b0b0"/>
<line x1="38.2" y1="528.8" x2="43.2" y2="528.8" stroke="#b0b0b0"/>
<line x1="38.2" y1="583" x2="43.2" y2="583" stroke="#b0b0b0"/>
<line x1="38.2" y1="637.3" x2="43.2" y2="637.3" stroke="#b0b0b0"/>
</g>
<g fill="#2a2a2a" filter="url(#soft2)">
<text x="61.7" y="699.9" text-anchor="middle" font-size="9.2" textLength="12.8" lengthAdjust="spacingAndGlyphs">1990</text>
<text x="168" y="699.9" text-anchor="middle" font-size="9.2" textLength="12.8" lengthAdjust="spacingAndGlyphs">2000</text>
<text x="274.1" y="699.9" text-anchor="middle" font-size="9.2" textLength="12.8" lengthAdjust="spacingAndGlyphs">2010</text>
<text x="382.3" y="699.9" text-anchor="middle" font-size="9.2" textLength="12.8" lengthAdjust="spacingAndGlyphs">2020</text>
<text x="489.1" y="699.9" text-anchor="middle" font-size="9.2" textLength="12.8" lengthAdjust="spacingAndGlyphs">2030</text>
<text transform="translate(23 422.1) scale(1 1.0)" textLength="11.3" lengthAdjust="spacingAndGlyphs" font-size="8.5">2.1</text>
<text transform="translate(23 477.5) scale(1 1.0)" textLength="11.3" lengthAdjust="spacingAndGlyphs" font-size="8.5">2.0</text>
<text transform="translate(23 531.8) scale(1 1.0)" textLength="11.3" lengthAdjust="spacingAndGlyphs" font-size="8.5">1.9</text>
<text transform="translate(23 586) scale(1 1.0)" textLength="11.3" lengthAdjust="spacingAndGlyphs" font-size="8.5">1.8</text>
<text transform="translate(23 640.3) scale(1 1.0)" textLength="11.3" lengthAdjust="spacingAndGlyphs" font-size="8.5">1.7</text>
</g>
<text x="275.2" y="718" font-size="10.8" fill="#222" text-anchor="middle" textLength="16.0" lengthAdjust="spacingAndGlyphs" filter="url(#soft2)">Period</text>
<text transform="translate(17.1 546.3) rotate(-90) scale(1 0.78)" font-size="9.8" fill="#2a2a2a" text-anchor="middle" textLength="198" lengthAdjust="spacingAndGlyphs">Age-standardized Deaths rate, per 100000</text>
</g>
<g id="textE">
<g stroke="#333" stroke-width="1.1" filter="url(#soft2)">
<line x1="573.3" y1="689" x2="573.3" y2="693"/>
<line x1="681.1" y1="689" x2="681.1" y2="693"/>
<line x1="787.4" y1="689" x2="787.4" y2="693"/>
<line x1="894.2" y1="689" x2="894.2" y2="693"/>
<line x1="1002.5" y1="689" x2="1002.5" y2="693"/>
<line x1="552" y1="397.3" x2="556" y2="397.3" stroke="#333"/>
<line x1="552" y1="472" x2="556" y2="472" stroke="#333"/>
<line x1="552" y1="545.6" x2="556" y2="545.6" stroke="#333"/>
<line x1="552" y1="619.6" x2="556" y2="619.6" stroke="#333"/>
</g>
<g fill="#2a2a2a" filter="url(#soft2)">
<text x="573.7" y="704.6" text-anchor="middle" font-size="6.6" textLength="13.4" lengthAdjust="spacingAndGlyphs">1990</text>
<text x="681.5" y="704.6" text-anchor="middle" font-size="6.6" textLength="13.4" lengthAdjust="spacingAndGlyphs">2000</text>
<text x="787.8" y="704.6" text-anchor="middle" font-size="6.6" textLength="13.4" lengthAdjust="spacingAndGlyphs">2010</text>
<text x="894.6" y="704.6" text-anchor="middle" font-size="6.6" textLength="13.4" lengthAdjust="spacingAndGlyphs">2020</text>
<text x="1002.9" y="704.6" text-anchor="middle" font-size="6.6" textLength="13.4" lengthAdjust="spacingAndGlyphs">2030</text>
<text transform="translate(536.2 399.8) scale(1 0.76)" textLength="12.6" lengthAdjust="spacingAndGlyphs" font-size="9.0">4.4</text>
<text transform="translate(536.2 474.4) scale(1 0.76)" textLength="12.6" lengthAdjust="spacingAndGlyphs" font-size="9.0">4.2</text>
<text transform="translate(536.2 548.1) scale(1 0.76)" textLength="12.6" lengthAdjust="spacingAndGlyphs" font-size="9.0">4.0</text>
<text transform="translate(536.2 622.1) scale(1 0.76)" textLength="12.6" lengthAdjust="spacingAndGlyphs" font-size="9.0">3.8</text>
</g>
<text x="785.8" y="718" font-size="10.2" fill="#222" text-anchor="middle" textLength="18.0" lengthAdjust="spacingAndGlyphs" filter="url(#soft2)">Period</text>
<text transform="translate(528.3 547.4) rotate(-90) scale(1 0.85)" font-size="9.8" fill="#2a2a2a" text-anchor="middle" textLength="195.6" lengthAdjust="spacingAndGlyphs">Age-standardized YLDs rate, per 100000</text>
</g>
<g id="textF">
<g stroke="#333" stroke-width="1.1" filter="url(#soft2)">
<line x1="1077.5" y1="689" x2="1077.5" y2="694.3"/>
<line x1="1185.1" y1="689" x2="1185.1" y2="694.3"/>
<line x1="1291.9" y1="689" x2="1291.9" y2="694.3"/>
<line x1="1398.5" y1="689" x2="1398.5" y2="694.3"/>
<line x1="1506" y1="689" x2="1506" y2="694.3"/>
<line x1="1056.5" y1="419.1" x2="1060.5" y2="419.1" stroke="#bdbdbd"/>
<line x1="1056.5" y1="467.3" x2="1060.5" y2="467.3" stroke="#bdbdbd"/>
<line x1="1056.5" y1="515.8" x2="1060.5" y2="515.8" stroke="#bdbdbd"/>
<line x1="1056.5" y1="563.4" x2="1060.5" y2="563.4" stroke="#bdbdbd"/>
<line x1="1056.5" y1="611.2" x2="1060.5" y2="611.2" stroke="#bdbdbd"/>
<line x1="1056.5" y1="659.2" x2="1060.5" y2="659.2" stroke="#bdbdbd"/>
</g>
<g fill="#2a2a2a" filter="url(#soft2)">
<text x="1077.9" y="704.8" text-anchor="middle" font-size="9.0" textLength="15.9" lengthAdjust="spacingAndGlyphs">1990</text>
<text x="1185.5" y="704.8" text-anchor="middle" font-size="9.0" textLength="15.9" lengthAdjust="spacingAndGlyphs">2000</text>
<text x="1292.3" y="704.8" text-anchor="middle" font-size="9.0" textLength="15.9" lengthAdjust="spacingAndGlyphs">2010</text>
<text x="1398.9" y="704.8" text-anchor="middle" font-size="9.0" textLength="15.9" lengthAdjust="spacingAndGlyphs">2020</text>
<text x="1506.4" y="704.8" text-anchor="middle" font-size="9.0" textLength="15.9" lengthAdjust="spacingAndGlyphs">2030</text>
<text transform="translate(1043.6 422.1) scale(1 1.0)" textLength="9.2" lengthAdjust="spacingAndGlyphs" font-size="8.8">56</text>
<text transform="translate(1043.6 470.3) scale(1 1.0)" textLength="9.2" lengthAdjust="spacingAndGlyphs" font-size="8.8">54</text>
<text transform="translate(1043.6 518.8) scale(1 1.0)" textLength="9.2" lengthAdjust="spacingAndGlyphs" font-size="8.8">52</text>
<text transform="translate(1043.6 566.4) scale(1 1.0)" textLength="9.2" lengthAdjust="spacingAndGlyphs" font-size="8.8">50</text>
<text transform="translate(1043.6 614.2) scale(1 1.0)" textLength="9.2" lengthAdjust="spacingAndGlyphs" font-size="8.8">48</text>
<text transform="translate(1043.6 662.2) scale(1 1.0)" textLength="9.2" lengthAdjust="spacingAndGlyphs" font-size="8.8">46</text>
</g>
<text x="1293.4" y="718" font-size="9.6" fill="#222" text-anchor="middle" textLength="22.7" lengthAdjust="spacingAndGlyphs" filter="url(#soft2)">Period</text>
<text transform="translate(1033.1 556) rotate(-90) scale(1 0.72)" font-size="9.8" fill="#2a2a2a" text-anchor="middle" textLength="191" lengthAdjust="spacingAndGlyphs">Age-standardized YLLs rate, per 100000</text>
</g>
<text transform="translate(6.50 32.80) scale(1.3182 1.3551)" font-size="20" fill="#000">A</text>
<text transform="translate(516.07 25.85) scale(1.2075 1.3804)" font-size="20" fill="#000">B</text>
<text transform="translate(1038.01 28.82) scale(1.1905 1.3803)" font-size="20" fill="#000">C</text>
<text transform="translate(5.39 381.40) scale(1.3814 1.3986)" font-size="20" fill="#000">D</text>
<text transform="translate(520.43 381.10) scale(0.9167 1.3623)" font-size="20" fill="#000">E</text>
<text transform="translate(1037.55 378.40) scale(1.0306 1.3623)" font-size="20" fill="#000">F</text>
</svg>
</body>
</html>
